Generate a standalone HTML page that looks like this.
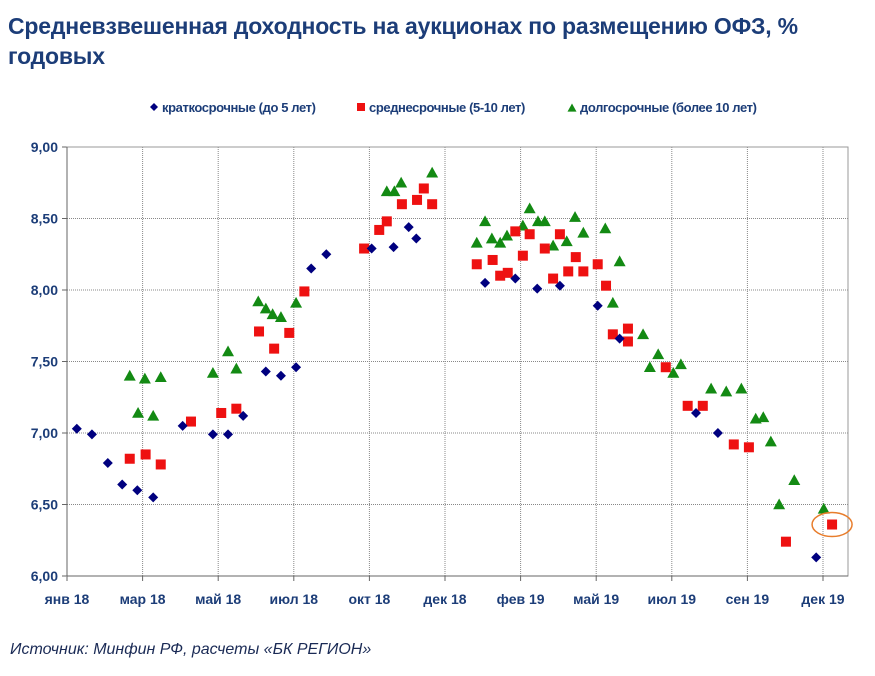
<!DOCTYPE html>
<html><head><meta charset="utf-8">
<style>
body{margin:0;background:#fff;width:875px;height:676px;overflow:hidden;font-family:"Liberation Sans","DejaVu Sans",sans-serif}
#title{position:absolute;left:8px;top:11px;width:860px;font-size:23px;font-weight:bold;color:#1c3d78;line-height:30px;letter-spacing:-0.2px}
#src{position:absolute;left:10px;top:641px;font-size:16px;font-style:italic;color:#1a2a55}
</style></head><body>
<div id="title">Средневзвешенная доходность на аукционах по размещению ОФЗ, %<br>годовых</div>
<svg id="chart" width="875" height="676" style="position:absolute;left:0;top:0"></svg>
<div id="src">Источник: Минфин РФ, расчеты «БК РЕГИОН»</div>
<script>
const xLabels=["янв 18","мар 18","май 18","июл 18","окт 18","дек 18","фев 19","май 19","июл 19","сен 19","дек 19"];
const yTicks=[6,6.5,7,7.5,8,8.5,9];
const shortX=[0.13,0.33,0.54,0.73,0.93,1.14,1.53,1.93,2.13,2.33,2.63,2.83,3.03,3.23,3.43,4.03,4.32,4.52,4.62,5.53,5.93,6.22,6.52,7.02,7.31,8.32,8.61,9.91];
const shortY=[7.03,6.99,6.79,6.64,6.60,6.55,7.05,6.99,6.99,7.12,7.43,7.40,7.46,8.15,8.25,8.29,8.30,8.44,8.36,8.05,8.08,8.01,8.03,7.89,7.66,7.14,7.00,6.13];
const midX=[0.83,1.04,1.24,1.64,2.04,2.24,2.54,2.74,2.94,3.14,3.93,4.13,4.23,4.43,4.63,4.72,4.83,5.42,5.63,5.73,5.83,5.93,6.03,6.12,6.32,6.43,6.52,6.63,6.73,6.83,7.02,7.13,7.22,7.42,7.42,7.92,8.21,8.41,8.82,9.02,9.51,10.12];
const midY=[6.82,6.85,6.78,7.08,7.14,7.17,7.71,7.59,7.70,7.99,8.29,8.42,8.48,8.60,8.63,8.71,8.60,8.18,8.21,8.10,8.12,8.41,8.24,8.39,8.29,8.08,8.39,8.13,8.23,8.13,8.18,8.03,7.69,7.73,7.64,7.46,7.19,7.19,6.92,6.90,6.24,6.36];
const longX=[0.83,0.94,1.03,1.14,1.24,1.93,2.13,2.24,2.53,2.63,2.72,2.83,3.03,4.23,4.33,4.42,4.83,5.42,5.53,5.62,5.73,5.82,6.03,6.12,6.23,6.32,6.43,6.61,6.72,6.83,7.12,7.31,7.22,7.62,7.82,7.71,8.02,8.12,8.52,8.72,8.92,9.11,9.21,9.31,9.62,9.42,10.01];
const longY=[7.40,7.14,7.38,7.12,7.39,7.42,7.57,7.45,7.92,7.87,7.83,7.81,7.91,8.69,8.69,8.75,8.82,8.33,8.48,8.36,8.33,8.38,8.45,8.57,8.48,8.48,8.31,8.34,8.51,8.40,8.43,8.20,7.91,7.69,7.55,7.46,7.42,7.48,7.31,7.29,7.31,7.10,7.11,6.94,6.67,6.50,6.47];
const highlight=[10.12,6.36];

const svg=document.getElementById('chart');const NS='http://www.w3.org/2000/svg';
const L=67,R=848,T=147,B=576;
const xs=v=>L+v*75.6;
const ys=v=>B-(v-6)/3*(B-T);
function mk(tag,attrs,parent){const e=document.createElementNS(NS,tag);for(const k in attrs)e.setAttribute(k,attrs[k]);(parent||svg).appendChild(e);return e;}
yTicks.forEach((t,i)=>{
 const g=mk('line',{x1:L,x2:R,y1:ys(t),y2:ys(t),stroke:'#888','stroke-width':1,'stroke-dasharray':'1,1'});
 
 
 const tk=mk('line',{x1:L-5,x2:L,y1:ys(t),y2:ys(t),stroke:'#666'});
 
 
 const tx=mk('text',{x:L-9,y:ys(t)+5,'text-anchor':'end','font-size':14,'font-weight':'bold',fill:'#1c3d78'});
 tx.textContent=t.toFixed(2).replace('.',',');
 
 
});
xLabels.forEach((l,i)=>{
 if(i>0){const g=mk('line',{x1:xs(i),x2:xs(i),y1:T,y2:B,stroke:'#888','stroke-dasharray':'1,1'});
 
 }
 const tk=mk('line',{x1:xs(i),x2:xs(i),y1:B,y2:B+5,stroke:'#666'});
 
 
 const tx=mk('text',{x:xs(i),y:604,'text-anchor':'middle','font-size':14,'font-weight':'bold',fill:'#1c3d78'});
 tx.textContent=l;
 
 
});
const fr=mk('rect',{x:L,y:T,width:R-L,height:B-T,fill:'none',stroke:'#999'});


const ax=mk('line',{x1:L,x2:L,y1:T,y2:B,stroke:'#666'});


const ax2=mk('line',{x1:L,x2:R,y1:B,y2:B,stroke:'#666'});


function diamond(x,y,s){return mk('polygon',{points:`${x},${y-s} ${x+s},${y} ${x},${y+s} ${x-s},${y}`,fill:'#00007f'});}
function square(x,y,s){return mk('rect',{x:x-s,y:y-s,width:2*s,height:2*s,fill:'#ee1111'});}
function tri(x,y,s){return mk('polygon',{points:`${x},${y-s} ${x+s},${y+s*0.8} ${x-s},${y+s*0.8}`,fill:'#138a13'});}
longX.forEach((v,i)=>{const e=tri(xs(v),ys(longY[i]),6);
 
 });
midX.forEach((v,i)=>{const e=square(xs(v),ys(midY[i]),5);
 
 });
shortX.forEach((v,i)=>{const e=diamond(xs(v),ys(shortY[i]),5);
 
 });
const el=mk('ellipse',{cx:xs(highlight[0]),cy:ys(highlight[1]),rx:20,ry:12,fill:'none',stroke:'#e87d2c','stroke-width':1.5});


const lg=[['d',154,'краткосрочные (до 5 лет)'],['s',361,'среднесрочные (5-10 лет)'],['t',572,'долгосрочные (более 10 лет)']];
lg.forEach(([k,x,t])=>{
 const m=k==='d'?diamond(x,107,4):k==='s'?square(x,107,4):tri(x,108,4.5);
 
 
 const tx=mk('text',{x:x+8,y:112,'font-size':13,'font-weight':'bold',fill:'#1c3d78','letter-spacing':'-0.4'});
 tx.textContent=t;
 
 
});
</script>
</body></html>
